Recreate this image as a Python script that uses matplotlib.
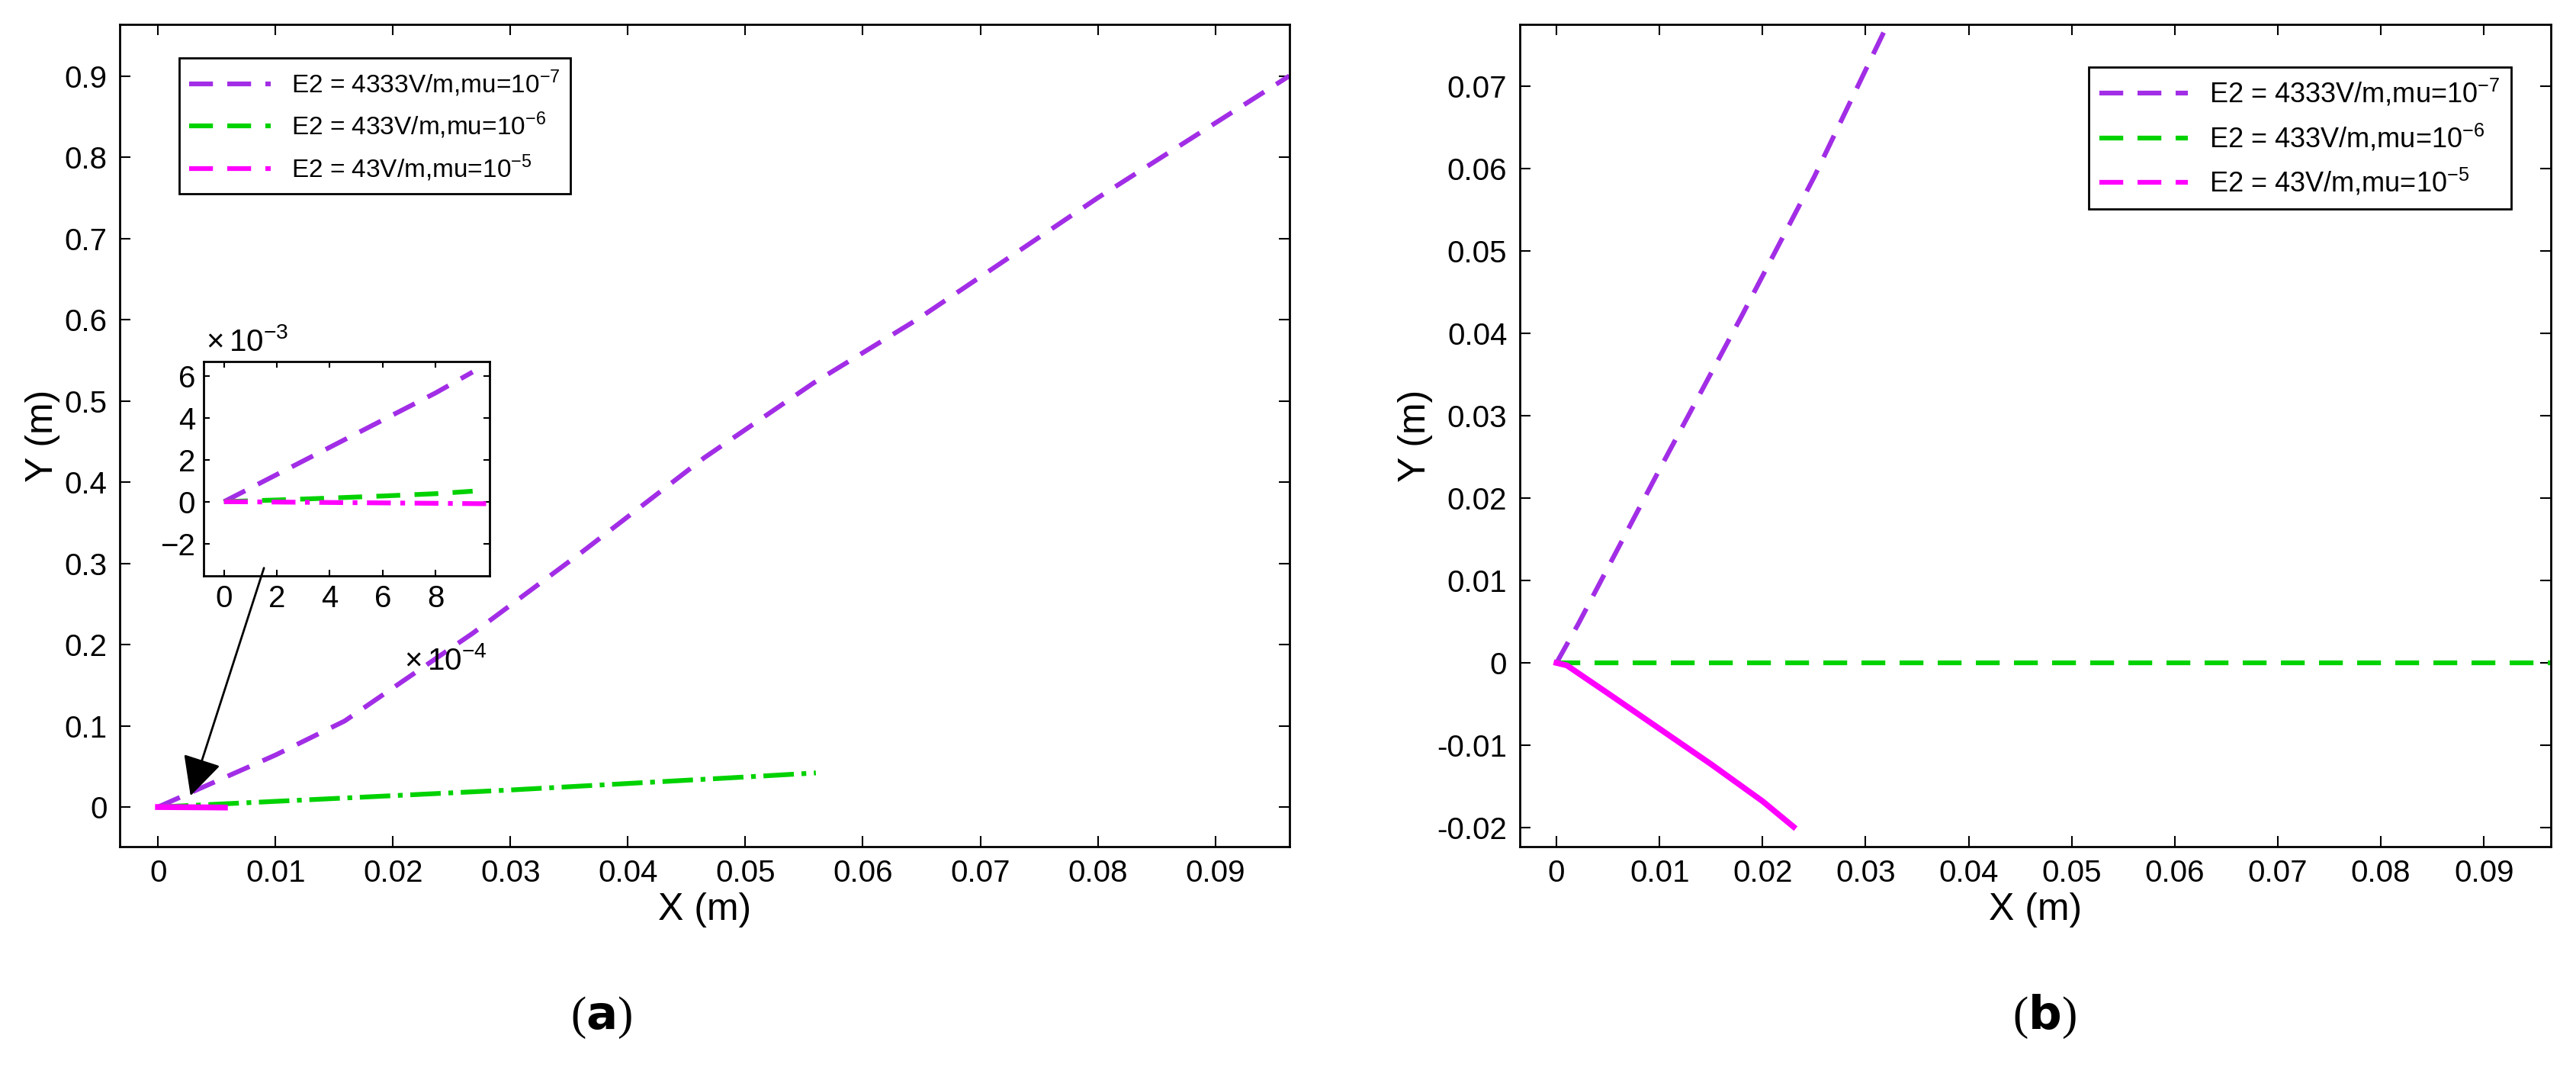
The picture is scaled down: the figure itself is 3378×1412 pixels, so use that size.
import matplotlib
matplotlib.use("Agg")
import matplotlib.pyplot as plt
import numpy as np

plt.rcParams['font.family'] = ['Liberation Sans', 'DejaVu Sans']
plt.rcParams['mathtext.fontset'] = 'custom'
plt.rcParams['mathtext.rm'] = 'Liberation Sans'

PURPLE = '#a22de6'
GREEN = '#00d200'
MAGENTA = '#ff00ff'
labels = [r'E2 = 4333V/m,mu=10$^{-7}$', r'E2 = 433V/m,mu=10$^{-6}$', r'E2 = 43V/m,mu=10$^{-5}$']

# panel (a)
a_purple_x = [0, 0.005, 0.010, 0.0159, 0.0268, 0.0361, 0.0465, 0.0558, 0.0646, 0.080, 0.0963]
a_purple_y = [0, 0.032, 0.064, 0.106, 0.214, 0.314, 0.430, 0.522, 0.600, 0.750, 0.900]
a_green_x = [0, 0.01, 0.02, 0.03, 0.04, 0.05, 0.056]
a_green_y = [0, 0.007, 0.014, 0.021, 0.029, 0.037, 0.042]
a_mag_x = [0, 0.002, 0.004, 0.0057]
a_mag_y = [0, -0.0002, -0.0004, -0.0006]

# inset of (a), x in 1e-4 m, y in 1e-3 m
in_purple_x = [0, 2, 4, 6, 8, 9.4]
in_purple_y = [0, 1.3, 2.6, 3.9, 5.2, 6.2]
in_green_x = [0, 2, 4, 6, 8, 9.4]
in_green_y = [0, 0.08, 0.17, 0.27, 0.38, 0.5]
in_mag_x = [0, 2, 4, 6, 8, 10]
in_mag_y = [0, -0.02, -0.04, -0.06, -0.08, -0.1]

# panel (b)
b_purple_x = [0, 0.0021, 0.010, 0.018, 0.025, 0.0318]
b_purple_y = [0, 0.0047, 0.0235, 0.0422, 0.059, 0.0767]
b_green_x = [0, 0.0965]
b_green_y = [0, 0]
b_mag_x = [0, 0.0010, 0.005, 0.010, 0.015, 0.020, 0.023]
b_mag_y = [0, -0.0003, -0.0037, -0.0080, -0.0123, -0.0168, -0.0199]

fig = plt.figure(figsize=(33.78, 14.12), dpi=100)

def style(ax, fs):
    ax.tick_params(direction='in', top=True, right=True, labelsize=fs, length=10, width=1.5, pad=12)
    for s in ax.spines.values():
        s.set_linewidth(2)

lw = 4.5
ax1 = fig.add_axes([0.0465, 0.214, 0.454, 0.763])
ax1.plot(a_purple_x, a_purple_y, color=PURPLE, lw=lw, dashes=(5, 3), label=labels[0])
ax1.plot(a_green_x, a_green_y, color=GREEN, lw=lw, ls='-.', label=labels[1])
ax1.plot(a_mag_x, a_mag_y, color=MAGENTA, lw=lw+1, label=labels[2])
ax1.set_xlim(-0.00325, 0.0963)
ax1.set_ylim(-0.0486, 0.963)
ax1.set_xticks(np.arange(0, 0.091, 0.01))
ax1.set_xticklabels(['0'] + ['%.2f' % v for v in np.arange(0.01, 0.091, 0.01)])
ax1.set_yticks(np.arange(0, 0.91, 0.1))
ax1.set_yticklabels(['0'] + ['%.1f' % v for v in np.arange(0.1, 0.91, 0.1)])
ax1.set_xlabel('X (m)', fontsize=36, labelpad=4)
ax1.set_ylabel('Y (m)', fontsize=36)
style(ax1, 29)
h = [plt.Line2D([], [], color=c, lw=lw, dashes=(5, 3)) for c in (PURPLE, GREEN, MAGENTA)]
leg = ax1.legend(h, labels, loc='upper left', bbox_to_anchor=(0.04, 0.975), fontsize=24,
                 fancybox=False, edgecolor='black', framealpha=1, handlelength=3.2)
leg.get_frame().set_linewidth(2)

ins = fig.add_axes([267 / 3378, 1 - 755 / 1412, 375 / 3378, 281 / 1412])
ins.plot(in_purple_x, in_purple_y, color=PURPLE, lw=lw, dashes=(5, 3))
ins.plot(in_green_x, in_green_y, color=GREEN, lw=lw, dashes=(5, 3))
ins.plot(in_mag_x, in_mag_y, color=MAGENTA, lw=lw, dashes=(5, 2, 1, 2))
ins.set_xlim(-0.77, 10.04)
ins.set_ylim(-3.55, 6.7)
ins.set_xticks([0, 2, 4, 6, 8])
ins.set_yticks([-2, 0, 2, 4, 6])
style(ins, 29)
ins.tick_params(length=6, pad=8)
fig.text(270 / 3378, 1 - 468 / 1412, r'$\times\,10^{-3}$', fontsize=29, va='bottom')
fig.text(530 / 3378, 1 - 866 / 1412, r'$\times\,10^{-4}$', fontsize=29, va='center')
fig.add_artist(matplotlib.patches.FancyArrowPatch(
    (347 / 3378, 1 - 742 / 1412), (249 / 3378, 1 - 1046 / 1412), transform=fig.transFigure,
    arrowstyle='-|>,head_length=1.6,head_width=0.8', color='black', lw=2, mutation_scale=20))

ax2 = fig.add_axes([1993 / 3378, 0.214, 1352 / 3378, 0.763])
ax2.plot(b_purple_x, b_purple_y, color=PURPLE, lw=lw, dashes=(5, 3), label=labels[0])
ax2.plot(b_green_x, b_green_y, color=GREEN, lw=lw, dashes=(5, 3), label=labels[1])
ax2.plot(b_mag_x, b_mag_y, color=MAGENTA, lw=lw+1, label=labels[2])
ax2.set_xlim(-0.00356, 0.0965)
ax2.set_ylim(-0.0223, 0.0775)
ax2.set_xticks(np.arange(0, 0.091, 0.01))
ax2.set_xticklabels(['0'] + ['%.2f' % v for v in np.arange(0.01, 0.091, 0.01)])
ax2.set_yticks(np.arange(-0.02, 0.071, 0.01))
ax2.set_yticklabels(['%.2f' % v if abs(v) > 1e-9 else '0' for v in np.arange(-0.02, 0.071, 0.01)])
ax2.set_xlabel('X (m)', fontsize=36, labelpad=4)
ax2.set_ylabel('Y (m)', fontsize=36)
style(ax2, 29)
for t in ax2.get_xticklabels() + ax2.get_yticklabels():
    t.set_family(['Liberation Sans Narrow', 'Liberation Sans'])
leg2 = ax2.legend(h, labels, loc='upper right', bbox_to_anchor=(0.975, 0.965), fontsize=24,
                  fancybox=False, edgecolor='black', framealpha=1, handlelength=3.2,
                  prop={'family': ['Liberation Sans Narrow', 'Liberation Sans'], 'size': 26})
leg2.get_frame().set_linewidth(2)

fig.text(0.2335, 0.045, r'($\mathbf{a}$)', fontsize=44, family='Liberation Serif', ha='center')
fig.text(0.7935, 0.045, r'($\mathbf{b}$)', fontsize=44, family='Liberation Serif', ha='center')

fig.savefig('out.png', dpi=100)
